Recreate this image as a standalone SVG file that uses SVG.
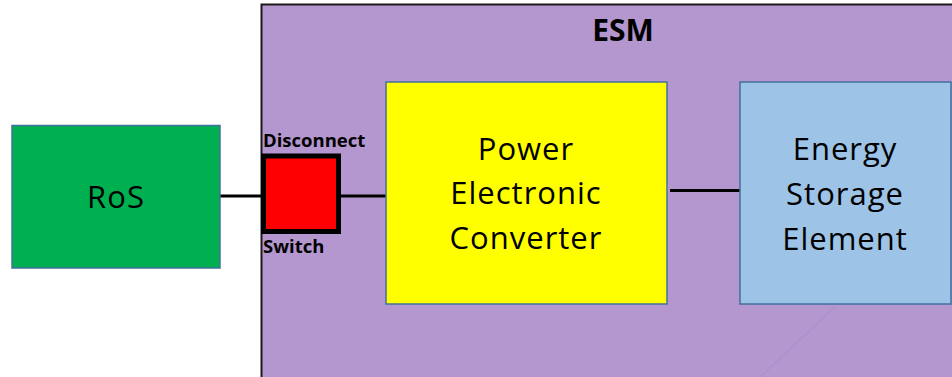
<svg xmlns="http://www.w3.org/2000/svg" width="952" height="377" viewBox="0 0 952 377">
<style>
.lbl{font-family:"Open Sans","Liberation Sans",sans-serif;font-size:31px;letter-spacing:1px;fill:#000;text-anchor:middle}
.sm{font-family:"Open Sans","Liberation Sans",sans-serif;font-size:18.5px;font-weight:bold;fill:#000}
.box{stroke:#41719C;stroke-width:1.5}
.wire{stroke:#000;stroke-width:3;fill:none}
</style>
<rect width="952" height="377" fill="#fff"/>
<g id="esm">
<rect x="261.5" y="4.5" width="700" height="380" fill="#B497CF" stroke="#1a1a1a" stroke-width="2"/>
<text x="623" y="41" class="sm" style="font-size:30px" text-anchor="middle">ESM</text>
<line x1="834" y1="308" x2="760" y2="377" stroke="#A98BC6" stroke-width="1"/>
</g>
<g id="connectors">
<line class="wire" x1="220" y1="196" x2="263" y2="196"/>
<line class="wire" x1="341" y1="196" x2="386" y2="196"/>
<line class="wire" x1="670" y1="190.5" x2="740" y2="190.5"/>
</g>
<g id="ros">
<rect class="box" x="12" y="125.5" width="208" height="142.5" fill="#00B050"/>
<text class="lbl" x="116" y="208">RoS</text>
</g>
<g id="switch">
<rect x="263.5" y="156" width="75" height="75.5" fill="#FF0000" stroke="#000" stroke-width="5"/>
<text class="sm" x="263" y="147">Disconnect</text>
<text class="sm" x="263" y="253">Switch</text>
</g>
<g id="pec">
<rect class="box" x="386" y="82" width="281" height="222" fill="#FFFF00"/>
<text class="lbl" x="526" y="160">Power</text>
<text class="lbl" x="526" y="204">Electronic</text>
<text class="lbl" x="526" y="249">Converter</text>
</g>
<g id="ese">
<rect class="box" x="740" y="82" width="211" height="222" fill="#9DC3E6"/>
<text class="lbl" x="845" y="160">Energy</text>
<text class="lbl" x="845" y="205">Storage</text>
<text class="lbl" x="845" y="250">Element</text>
</g>
</svg>
